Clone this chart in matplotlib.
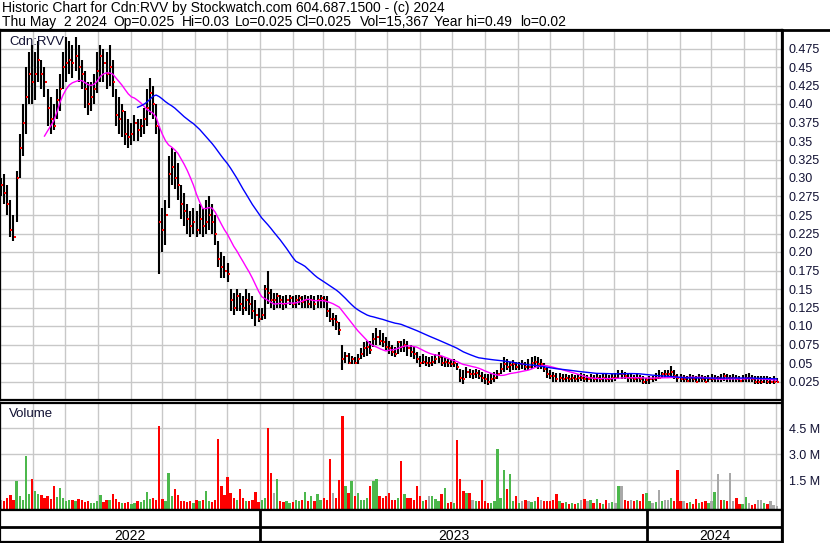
import numpy as np
import pandas as pd
import matplotlib
matplotlib.use('Agg')
import matplotlib.pyplot as plt
import matplotlib.dates as mdates
from matplotlib.lines import Line2D

plt.rcParams['font.family'] = ['Liberation Sans', 'DejaVu Sans']

# prices in 1/1000 dollars, one bar every ~3 days, May 2022 .. May 2 2024
highs = [300, 305, 290, 270, 250, 310, 360, 400, 450, 470,
         480, 470, 485, 460, 450, 420, 410, 400, 420, 440,
         470, 490, 485, 480, 490, 480, 460, 445, 430, 430,
         440, 470, 480, 475, 470, 480, 460, 420, 410, 400,
         390, 380, 375, 385, 380, 380, 395, 420, 435, 425,
         400, 370, 260, 270, 330, 340, 335, 320, 290, 280,
         265, 255, 260, 255, 265, 260, 270, 275, 265, 250,
         215, 200, 195, 185, 150, 145, 150, 145, 140, 150,
         145, 140, 135, 125, 125, 155, 175, 150, 145, 145,
         142, 140, 142, 142, 140, 142, 142, 140, 142, 140,
         142, 140, 142, 142, 140, 140, 125, 118, 115, 105,
         75, 65, 63, 60, 58, 62, 70, 78, 80, 80,
         90, 97, 95, 90, 85, 80, 75, 72, 80, 80,
         82, 80, 75, 72, 65, 60, 62, 60, 58, 60,
         62, 65, 60, 58, 55, 55, 55, 50, 42, 40,
         45, 42, 40, 42, 40, 38, 35, 35, 36, 38,
         40, 50, 58, 55, 52, 54, 52, 52, 54, 52,
         55, 58, 60, 58, 55, 50, 45, 40, 38, 36,
         36, 35, 35, 34, 35, 34, 35, 36, 35, 34,
         35, 34, 35, 34, 35, 35, 34, 35, 36, 40,
         40, 38, 35, 35, 34, 35, 34, 32, 30, 32,
         32, 36, 40, 38, 40, 40, 46, 40, 35, 35,
         34, 33, 35, 34, 33, 35, 34, 33, 34, 35,
         34, 33, 35, 36, 35, 34, 35, 34, 33, 34,
         35, 36, 34, 33, 32, 32, 33, 32, 31, 32, 30]
lows = [275, 265, 250, 220, 215, 240, 300, 330, 360, 400,
        400, 405, 430, 420, 410, 370, 360, 365, 380, 390,
        420, 430, 440, 435, 445, 430, 420, 395, 385, 390,
        400, 415, 430, 430, 420, 425, 410, 370, 360, 355,
        345, 340, 345, 350, 350, 355, 360, 370, 385, 380,
        360, 170, 200, 210, 260, 290, 285, 270, 245, 235,
        225, 220, 225, 220, 225, 220, 225, 230, 225, 210,
        180, 165, 165, 160, 120, 115, 120, 120, 115, 120,
        115, 110, 100, 105, 108, 110, 130, 125, 122, 125,
        125, 122, 125, 128, 125, 125, 128, 125, 125, 125,
        125, 122, 125, 125, 125, 112, 105, 100, 95, 88,
        40, 50, 48, 48, 48, 48, 55, 58, 60, 62,
        72, 75, 74, 72, 68, 62, 60, 58, 62, 65,
        65, 60, 58, 55, 50, 45, 48, 46, 45, 46,
        48, 50, 46, 45, 45, 44, 45, 40, 25, 22,
        30, 30, 28, 30, 28, 25, 22, 20, 22, 25,
        28, 35, 38, 40, 38, 40, 40, 40, 42, 40,
        40, 42, 45, 42, 42, 38, 30, 28, 24, 25,
        25, 24, 25, 25, 25, 24, 25, 26, 25, 24,
        25, 25, 25, 24, 25, 25, 24, 25, 26, 28,
        28, 28, 25, 25, 24, 25, 24, 22, 22, 22,
        24, 26, 28, 30, 30, 30, 32, 28, 25, 25,
        24, 24, 25, 24, 24, 25, 24, 24, 24, 25,
        25, 24, 25, 26, 25, 24, 25, 24, 24, 24,
        25, 25, 24, 22, 22, 22, 23, 22, 22, 22, 25]
closes = [290, 280, 265, 230, 220, 300, 340, 375, 410, 440,
          430, 440, 460, 440, 430, 395, 380, 370, 405, 420,
          450, 455, 460, 455, 465, 450, 440, 420, 400, 410,
          420, 445, 465, 455, 440, 450, 430, 385, 380, 390,
          360, 355, 360, 375, 365, 370, 380, 395, 415, 400,
          370, 240, 230, 250, 305, 315, 300, 290, 265, 255,
          245, 235, 240, 230, 245, 235, 240, 250, 240, 225,
          190, 180, 175, 170, 135, 125, 140, 130, 125, 135,
          130, 120, 115, 110, 115, 150, 145, 135, 135, 140,
          135, 130, 135, 138, 130, 135, 138, 132, 135, 130,
          135, 130, 135, 138, 135, 120, 110, 110, 105, 95,
          55, 60, 50, 55, 50, 55, 62, 70, 72, 68,
          82, 85, 80, 78, 72, 70, 65, 62, 78, 72,
          75, 70, 65, 62, 55, 50, 52, 50, 50, 52,
          55, 58, 50, 52, 50, 48, 50, 45, 30, 28,
          38, 35, 35, 36, 33, 30, 28, 25, 28, 30,
          35, 42, 48, 45, 47, 48, 45, 48, 48, 45,
          45, 50, 52, 48, 48, 42, 35, 33, 32, 28,
          30, 28, 30, 28, 30, 28, 30, 30, 28, 28,
          30, 28, 30, 28, 30, 28, 28, 30, 30, 35,
          35, 32, 30, 30, 28, 30, 28, 25, 27, 28,
          28, 30, 30, 35, 35, 35, 38, 32, 30, 28,
          28, 26, 30, 28, 25, 30, 28, 25, 28, 28,
          30, 30, 28, 32, 30, 30, 30, 28, 26, 28,
          30, 30, 28, 25, 25, 25, 28, 25, 25, 25, 25]
# volume in thousands of shares
volumes = [350, 300, 500, 650, 350, 1440, 600, 400, 2900, 700,
           1600, 900, 700, 650, 500, 600, 450, 1150, 550, 1050,
           500, 300, 350, 400, 300, 450, 350, 250, 300, 200,
           200, 300, 650, 250, 400, 350, 700, 450, 250, 200,
           200, 250, 150, 200, 300, 250, 400, 850, 450, 500,
           400, 4630, 450, 300, 1900, 600, 1000, 650, 300, 300,
           250, 300, 200, 350, 300, 400, 900, 300, 250, 350,
           3900, 1200, 670, 1700, 760, 500, 400, 1000, 500, 300,
           300, 400, 840, 250, 350, 500, 4500, 1900, 800, 1600,
           300, 250, 300, 200, 250, 350, 300, 400, 850, 300,
           600, 300, 700, 400, 500, 350, 2750, 800, 500, 1550,
           5200, 1200, 800, 1440, 600, 780, 400, 400, 500, 1200,
           1450, 1600, 600, 500, 600, 760, 400, 400, 500, 2600,
           720, 500, 500, 400, 1200, 630, 300, 350, 600, 600,
           450, 300, 700, 1070, 200, 250, 200, 3800, 1600, 900,
           800, 800, 400, 300, 300, 1550, 300, 200, 200, 300,
           3300, 500, 2100, 1000, 1850, 300, 600, 200, 300, 400,
           300, 250, 300, 570, 400, 300, 300, 300, 400, 700,
           300, 200, 250, 150, 200, 150, 200, 350, 450, 300,
           350, 200, 450, 200, 150, 350, 200, 250, 200, 1170,
           1200, 400, 300, 400, 300, 400, 300, 700, 800, 300,
           200, 250, 960, 300, 350, 400, 500, 300, 2100, 300,
           300, 200, 250, 150, 450, 200, 250, 300, 200, 300,
           820, 1850, 350, 400, 300, 1900, 300, 500, 150, 150,
           530, 200, 100, 150, 350, 350, 200, 150, 300, 100, 15]
years = ['2022', '2023', '2024']
price_ticks = [0.025, 0.05, 0.075, 0.10, 0.125, 0.15, 0.175, 0.20, 0.225, 0.25,
               0.275, 0.30, 0.325, 0.35, 0.375, 0.40, 0.425, 0.45, 0.475]
vol_ticks = [1.5, 3.0, 4.5]

title1 = 'Historic Chart for Cdn:RVV by Stockwatch.com 604.687.1500 - (c) 2024'
title2 = [('Thu May  2 2024', 2), ('Op=0.025', 113), ('Hi=0.03', 182), ('Lo=0.025', 235),
          ('Cl=0.025', 295), ('Vol=15,367', 360), ('Year hi=0.49', 434), ('lo=0.02', 520)]

hi = np.array(highs) / 1000
lo = np.array(lows) / 1000
cl = np.array(closes) / 1000
vol = np.array(volumes) / 1000
dates = pd.date_range('2022-05-02', '2024-05-02', periods=len(cl))
x0, x1 = pd.Timestamp('2022-05-01'), pd.Timestamp('2024-05-07')

W, H = 830, 543
fig = plt.figure(figsize=(W / 100, H / 100), dpi=100)


def box(l, t, r, b):
    return [l / W, 1 - b / H, (r - l) / W, (b - t) / H]


ax = fig.add_axes(box(0, 30, 782, 400))
axv = fig.add_axes(box(0, 403, 782, 510))
axd = fig.add_axes(box(0, 510, 782, 542))

grid_c = '#c8c8c8'
txt_c = '#111133'

# price pane
ax.vlines(dates, lo, hi, color='black', lw=1.5, zorder=2)
ax.scatter(dates + pd.Timedelta(days=1), cl, marker='s', s=2.5, color='red', lw=0, zorder=3)
ma1 = pd.Series(cl).rolling(15).mean()
ma2 = pd.Series(cl).rolling(45).mean()
ax.plot(dates, ma1, color='#ff00ff', lw=1, zorder=4)
ax.plot(dates, ma2, color='#0000ff', lw=1, zorder=4)
ax.set_xlim(x0, x1)
ax.set_ylim(0, 0.5)
ax.set_yticks(price_ticks)
ax.set_yticklabels([('%.3f' % t).rstrip('0') if round(t * 1000) % 50 else '%.2f' % t for t in price_ticks])
ax.yaxis.tick_right()
ax.tick_params(axis='y', length=0, pad=5, labelsize=9, labelcolor=txt_c)
ax.xaxis.set_major_locator(mdates.MonthLocator())
ax.tick_params(axis='x', length=0, labelbottom=False)
ax.grid(color=grid_c, lw=1)
ax.set_axisbelow(True)
ax.text(9 / 782, 1 - 6 / 370, 'Cdn:RVV', transform=ax.transAxes, va='top', fontsize=9.5, color=txt_c)

# volume pane
diff = np.diff(cl, prepend=cl[0])
colors = np.where(diff > 0, '#4cb84c', np.where(diff < 0, '#ff0000', '#a8a8a8'))
vbase = -0.2
axv.bar(dates, vol - vbase, bottom=vbase, width=2.2, color=colors, lw=0, zorder=2)
axv.set_xlim(x0, x1)
axv.set_ylim(vbase, 5.94)
axv.set_yticks(vol_ticks)
axv.set_yticklabels(['%.1f M' % t for t in vol_ticks])
axv.yaxis.tick_right()
axv.tick_params(axis='y', length=0, pad=5, labelsize=9, labelcolor=txt_c)
axv.xaxis.set_major_locator(mdates.MonthLocator())
axv.tick_params(axis='x', length=0, labelbottom=False)
axv.grid(color=grid_c, lw=1)
axv.set_axisbelow(True)
axv.text(9 / 782, 1 - 5 / 107, 'Volume', transform=axv.transAxes, va='top', fontsize=9.5, color=txt_c)

# date rows
axd.set_xlim(x0, x1)
axd.set_ylim(0, 32)
axd.set_xticks([])
axd.set_yticks([])
axd.axhline(15, color='black', lw=2)
ystarts = [x0, pd.Timestamp('2023-01-01'), pd.Timestamp('2024-01-01'), x1]
for d in ystarts[1:3]:
    axd.axvline(d, color='black', lw=2)
for k, y in enumerate(years):
    mid = ystarts[k] + (ystarts[k + 1] - ystarts[k]) / 2
    axd.text(mid, 6, y, ha='center', va='center', fontsize=10, color='black')

for a in (ax, axv, axd):
    for s in a.spines.values():
        s.set_color('black')
        s.set_linewidth(1.6)

fig.add_artist(Line2D([0, 1], [1 - 30 / H] * 2, color='black', lw=2))
fig.add_artist(Line2D([782 / W] * 2, [0, 1 - 30 / H], color='black', lw=2))

fig.text(2 / W, 1 - 1 / H, title1, va='top', fontsize=10, color='black')
for s, xp in title2:
    fig.text(xp / W, 1 - 15 / H, s, va='top', fontsize=10, color='black')

fig.savefig('out.png', dpi=100)
